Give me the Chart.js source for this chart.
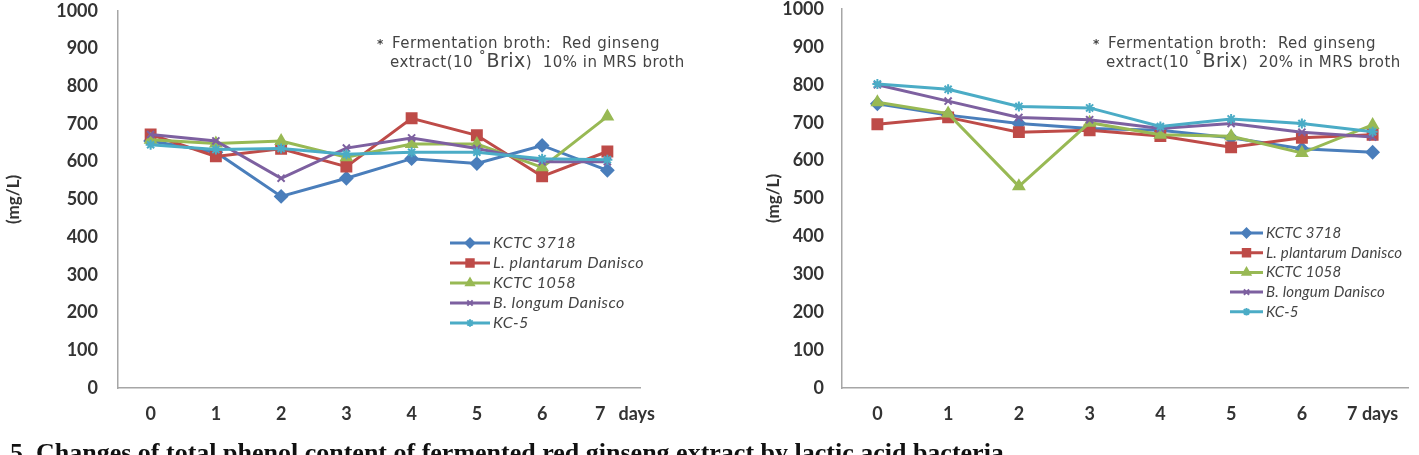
<!DOCTYPE html>
<html>
<head>
<meta charset="utf-8">
<script src="https://cdn.jsdelivr.net/npm/chart.js@4.4.1/dist/chart.umd.min.js"></script>
<style>
  body { margin: 0; background: #fff; width: 1419px; height: 455px; overflow: hidden; position: relative; }
  canvas { position: absolute; top: -20px; }
  #left { left: 0; }
  #right { left: 700px; }
  #caption { position: absolute; left: 10px; top: 440px; font: bold 26px "Liberation Serif", serif; line-height: 1; white-space: nowrap; color: #111; }
</style>
</head>
<body>
<canvas id="left" width="700" height="475"></canvas>
<canvas id="right" width="719" height="475"></canvas>
<div id="caption">5. Changes of total phenol content of fermented red ginseng extract by lactic acid bacteria</div>
<script>
// days of fermentation
const daysLeft = ['0', '1', '2', '3', '4', '5', '6', '        7   days'];
const daysRight = ['0', '1', '2', '3', '4', '5', '6', '7 days'];
const yTicks = [0, 100, 200, 300, 400, 500, 600, 700, 800, 900, 1000];

const strains = ['KCTC 3718', 'L. plantarum Danisco', 'KCTC 1058', 'B. longum Danisco', 'KC-5'];

// red ginseng extract 10% (mg/L)
const kctc3718_10 = [655, 625, 508, 556, 608, 595, 643, 577];
const plantarum_10 = [672, 614, 634, 587, 715, 670, 561, 627];
const kctc1058_10 = [658, 648, 655, 612, 647, 647, 585, 720];
const longum_10 = [672, 655, 556, 636, 663, 635, 600, 600];
const kc5_10 = [645, 632, 635, 620, 625, 625, 608, 605];

// red ginseng extract 20% (mg/L)
const kctc3718_20 = [750, 720, 698, 685, 680, 660, 631, 622];
const plantarum_20 = [696, 714, 675, 680, 665, 635, 660, 668];
const kctc1058_20 = [754, 724, 532, 700, 668, 664, 620, 694];
const longum_20 = [800, 757, 714, 708, 685, 698, 675, 662];
const kc5_20 = [802, 788, 743, 739, 690, 710, 698, 676];

const colors = ['#4a7ebb', '#be4b48', '#98b954', '#7d60a0', '#4bacc6'];
const markers = ['rectRot', 'rect', 'triangle', 'crossRot', 'star'];
const markerSize = [6, 7, 6, 5, 5];

function makeDatasets(seriesList) {
    return seriesList.map((values, i) => ({
        label: strains[i],
        data: values,
        borderColor: colors[i],
        backgroundColor: colors[i],
        pointBackgroundColor: colors[i],
        pointBorderColor: colors[i],
        pointStyle: markers[i],
        pointRadius: markerSize[i],
        pointBorderWidth: 2,
        borderWidth: 3,
        tension: 0,
        order: 4 - i
    }));
}

// legend drawn inside the plot, line with marker like the original
const sideLegend = {
    id: 'sideLegend',
    afterDraw(chart, args, opts) {
        const ctx = chart.ctx;
        ctx.save();
        chart.data.datasets.forEach((ds, i) => {
            const y = opts.y + i * opts.gap;
            ctx.strokeStyle = ds.borderColor;
            ctx.fillStyle = ds.borderColor;
            ctx.lineWidth = 3;
            ctx.beginPath();
            ctx.moveTo(opts.x, y);
            ctx.lineTo(opts.x + opts.len, y);
            ctx.stroke();
            ctx.lineWidth = 2;
            Chart.helpers.drawPoint(ctx, {pointStyle: ds.pointStyle, radius: ds.pointRadius * 0.75, borderWidth: 2, rotation: 0}, opts.x + opts.len / 2, y);
            ctx.fillStyle = '#444';
            ctx.font = 'italic ' + opts.size + 'px Lato';
            ctx.letterSpacing = opts.spacing + 'px';
            ctx.textBaseline = 'middle';
            ctx.textAlign = 'left';
            ctx.fillText(ds.label, opts.x + opts.len + 3, y);
        });
        ctx.restore();
    }
};

// note about the fermentation broth
const brothNote = {
    id: 'brothNote',
    afterDraw(chart, args, opts) {
        const ctx = chart.ctx;
        ctx.save();
        ctx.fillStyle = '#444';
        ctx.textBaseline = 'alphabetic';
        ctx.textAlign = 'left';
        ctx.font = 'bold 12px "DejaVu Sans"';
        ctx.fillText('*', opts.x - 15, opts.y);
        ctx.letterSpacing = '0.5px';
        ctx.font = '15px "DejaVu Sans"';
        ctx.fillText('Fermentation broth:  Red ginseng', opts.x, opts.y);
        let x = opts.x - 2;
        const y2 = opts.y + 19;
        const parts = [['extract(10 ', 15, 0], ['˚', 15, -3], ['Brix', 19, 0], [')  ' + opts.pct + ' in MRS broth', 15, 0]];
        parts.forEach(p => {
            ctx.font = p[1] + 'px "DejaVu Sans"';
            ctx.fillText(p[0], x, y2 + p[2]);
            x += ctx.measureText(p[0]).width;
        });
        ctx.restore();
    }
};

function makeOptions(cfg) {
    return {
        responsive: false,
        animation: false,
        layout: { padding: { left: cfg.padLeft, right: cfg.padRight, top: cfg.padTop, bottom: 0 } },
        plugins: {
            legend: { display: false },
            tooltip: { enabled: false },
            sideLegend: cfg.legend,
            brothNote: cfg.note
        },
        scales: {
            x: {
                offset: true,
                grid: { display: false, drawTicks: false },
                border: { display: true, color: '#a6a6a6', width: 1.5 },
                ticks: { color: '#333', font: { family: 'Lato', size: 18, weight: 'bold' }, padding: 15, maxRotation: 0, autoSkip: false },
                afterFit: s => { s.height = 67; }
            },
            y: {
                min: 0,
                max: 1000,
                afterBuildTicks: s => { s.ticks = yTicks.map(v => ({ value: v })); },
                grid: { display: false, drawTicks: false },
                border: { display: true, color: '#a6a6a6', width: 1.5 },
                ticks: { color: '#333', font: { family: 'Lato', size: 18, weight: 'bold' }, padding: cfg.tickPad, callback: v => String(v) },
                title: { display: true, text: '(mg/L)', color: '#333', font: { family: 'Lato', size: 17, weight: 'bold' }, padding: { top: 3, bottom: 4 } },
                afterFit: s => { s.width = cfg.yWidth; }
            }
        }
    };
}

new Chart(document.getElementById('left'), {
    type: 'line',
    data: { labels: daysLeft, datasets: makeDatasets([kctc3718_10, plantarum_10, kctc1058_10, longum_10, kc5_10]) },
    options: makeOptions({
        padLeft: 0, padRight: 60, padTop: 25, yWidth: 118, tickPad: 20,
        legend: { x: 450, y: 263, gap: 20, len: 40, size: 16, spacing: 0.5 },
        note: { x: 392, y: 68, pct: '10%' }
    }),
    plugins: [sideLegend, brothNote]
});

new Chart(document.getElementById('right'), {
    type: 'line',
    data: { labels: daysRight, datasets: makeDatasets([kctc3718_20, plantarum_20, kctc1058_20, longum_20, kc5_20]) },
    options: makeOptions({
        padLeft: 60, padRight: 11, padTop: 29, yWidth: 82, tickPad: 18,
        legend: { x: 530, y: 253, gap: 19.7, len: 33, size: 15, spacing: 0.2 },
        note: { x: 408, y: 68, pct: '20%' }
    }),
    plugins: [sideLegend, brothNote]
});
</script>
</body>
</html>
